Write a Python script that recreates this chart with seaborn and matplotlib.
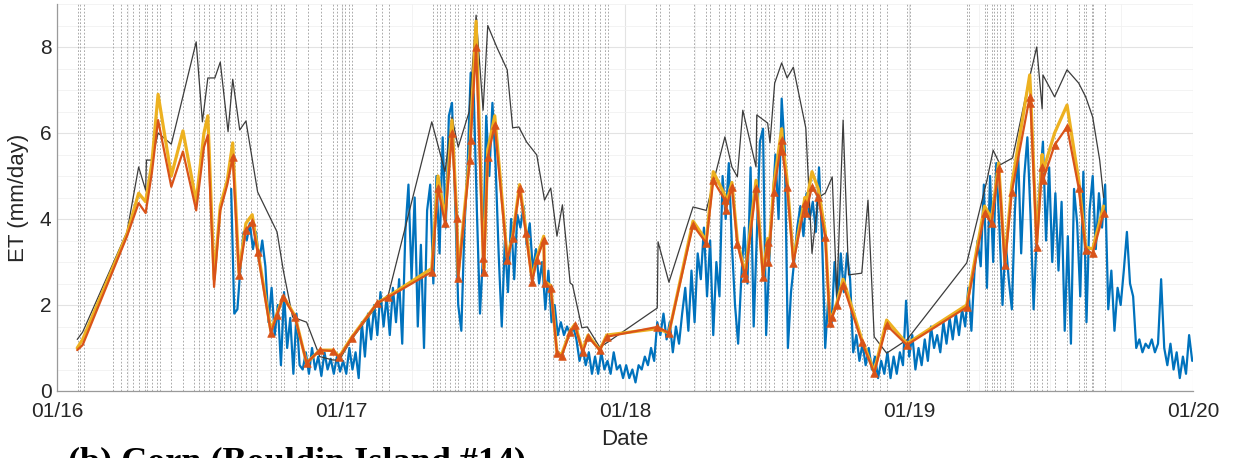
import numpy as np
import pandas as pd
import matplotlib
matplotlib.use("Agg")
import matplotlib.pyplot as plt
import matplotlib.dates as mdates
from matplotlib.ticker import MultipleLocator
import seaborn as sns

# ---------------- data ----------------
# satellite image acquisition dates (vertical dotted lines)
image_dates_2016 = ["2016-01-28","2016-01-31","2016-02-05","2016-03-13","2016-03-23","2016-03-31","2016-04-08",
    "2016-04-16","2016-04-23","2016-04-26","2016-05-02","2016-05-09","2016-05-12","2016-05-26","2016-06-11",
    "2016-06-25","2016-07-02","2016-07-08","2016-07-15","2016-07-21","2016-07-28","2016-08-03","2016-08-10",
    "2016-08-17","2016-08-24","2016-08-31","2016-09-07","2016-09-14","2016-10-02","2016-10-09","2016-10-15",
    "2016-10-19","2016-11-03","2016-11-19","2016-12-05","2016-12-21","2016-12-26"]
image_dates_2017 = ["2017-01-02","2017-01-05","2017-01-10","2017-01-14","2017-02-14","2017-02-22","2017-03-03",
    "2017-04-28","2017-05-04","2017-05-08","2017-05-14","2017-05-20","2017-05-27","2017-05-31","2017-06-09",
    "2017-06-15","2017-06-19","2017-06-24","2017-07-01","2017-07-07","2017-07-16","2017-07-26","2017-08-01",
    "2017-08-08","2017-08-14","2017-08-18","2017-08-25","2017-08-30","2017-09-05","2017-09-11","2017-09-18",
    "2017-09-24","2017-09-30","2017-10-07","2017-10-14","2017-10-21","2017-10-26","2017-11-01","2017-11-07",
    "2017-11-14","2017-11-23","2017-11-29","2017-12-06","2017-12-10"]
image_dates_2018 = ["2018-02-10","2018-02-15","2018-02-26","2018-03-30","2018-04-15","2018-04-20","2018-05-01",
    "2018-05-09","2018-05-16","2018-05-22","2018-06-02","2018-06-10","2018-06-19","2018-06-24","2018-06-30",
    "2018-07-05","2018-07-11","2018-07-21","2018-07-28","2018-08-05","2018-08-11","2018-08-20","2018-08-24",
    "2018-08-29","2018-09-02","2018-09-06","2018-09-11","2018-09-15","2018-09-21","2018-09-30","2018-10-08",
    "2018-10-17","2018-10-23","2018-11-01","2018-11-08","2018-11-15","2018-11-24","2018-12-03","2018-12-29"]
image_dates_2019 = ["2019-01-02","2019-03-16","2019-03-19","2019-04-08","2019-04-11","2019-04-17","2019-04-20",
    "2019-04-24","2019-04-28","2019-05-04","2019-05-12","2019-05-14","2019-06-05","2019-06-10","2019-06-15",
    "2019-06-21","2019-06-27","2019-07-07","2019-07-23","2019-08-08","2019-08-14","2019-08-16","2019-08-24",
    "2019-08-25","2019-09-10"]

# tower daily ET (sampled every 4 days)
tower_start = "2016-08-12"
tower_step_days = 4
tower_2016a = [4.7, 1.8, 1.9, 2.9, 3.7, 3.5, 3.9, 3.3, 3.7, 3.0, 3.5, 2.9, 1.6, 2.4, 1.3, 2.0, 0.6, 2.3, 1.0,
               1.7, 0.4, 1.8, 0.6]
tower_winter17 = [0.5, 0.9, 0.4, 1.0, 0.5, 0.8, 0.35, 0.9, 0.5, 0.75, 0.4, 0.8, 0.45, 0.7, 0.4, 1.0, 0.5, 0.9,
                  0.3, 1.6, 0.8, 1.8, 1.2, 2.0, 1.3, 2.3, 1.5, 2.2, 1.3, 2.4, 1.6, 2.6, 1.1]
tower_season17 = [3.7, 4.8, 2.6, 4.5, 1.5, 3.4, 1.0, 4.2, 4.8, 2.5, 5.0, 3.2, 5.9, 3.8, 6.4, 6.7, 4.4, 2.0, 1.4,
                  3.8, 5.2, 7.4, 6.9, 4.2, 1.8, 3.2, 6.4, 5.0, 6.7, 5.3, 3.2, 1.5, 3.5, 2.3, 4.0, 2.6, 4.1, 3.8,
                  4.3, 3.4, 3.9, 2.8, 3.3, 2.5, 3.0]
tower_fall17 = [1.9, 2.8, 1.6, 2.0, 1.3, 1.6, 1.3, 1.5, 1.3, 1.5, 1.2, 0.7, 1.0, 0.6, 0.9, 0.4, 0.8, 0.4, 0.9, 0.5]
tower_winter18 = [0.7, 0.4, 0.9, 0.5, 0.6, 0.3, 0.6, 0.3, 0.5, 0.2, 0.6, 0.5, 0.8, 0.6, 1.0, 0.7, 1.6, 1.3, 1.8,
                  1.2, 1.6, 0.9, 1.5, 1.1, 1.8]
tower_season18 = [2.4, 1.4, 2.8, 1.6, 3.2, 2.6, 3.8, 2.2, 3.5, 1.3, 3.0, 2.2, 5.0, 4.0, 5.3, 3.4, 2.0, 1.1, 2.6,
                  3.8, 2.5, 5.2, 1.5, 3.6, 5.8, 6.1, 1.3, 3.0, 4.3, 5.5, 4.0, 6.8, 5.6, 1.0, 2.3, 3.0, 3.8, 4.3,
                  3.6, 4.6, 4.0, 4.4, 3.7, 5.2, 3.5, 1.0, 2.2, 1.5, 3.0, 2.0, 3.2, 2.3, 3.2, 2.6, 0.9]
tower_winter19 = [1.3, 0.7, 1.1, 0.6, 1.0, 0.5, 0.8, 0.3, 0.7, 0.4, 0.9, 0.3, 0.8, 0.4, 0.9, 0.6, 2.1, 0.8, 1.3,
                  0.5, 1.0, 0.6, 1.2, 0.7, 1.5, 1.0, 1.3, 0.9, 1.6, 1.1, 1.7, 1.2, 1.8, 1.3, 1.9, 1.5, 2.4, 1.4,
                  2.8, 3.5]
tower_season19 = [2.9, 4.8, 2.4, 5.0, 3.0, 5.3, 3.8, 2.0, 3.5, 2.6, 1.9, 4.2, 5.6, 3.2, 5.0, 5.9, 4.1, 1.9, 3.6,
                  4.8, 5.8, 3.5, 5.2, 3.0, 4.6, 2.8, 4.4, 1.4, 3.6, 1.1, 4.7, 3.9, 2.2, 5.1, 1.6, 4.2, 5.0, 3.3,
                  4.6, 3.8, 4.8, 1.9, 2.8, 1.4, 2.4, 2.0, 2.8, 3.7, 2.5, 2.2, 1.0, 1.2, 0.9, 1.1, 1.0, 1.2, 0.9,
                  1.1, 2.6, 1.0, 0.6, 1.1, 0.5, 0.9, 0.3, 0.8, 0.4, 1.3, 0.7]

# model ET at image dates (orange with triangles, yellow)
model_dates = ["2016-01-27","2016-02-03","2016-03-31","2016-04-15","2016-04-24","2016-05-02","2016-05-10",
    "2016-05-27","2016-06-11","2016-06-28","2016-07-08","2016-07-13","2016-07-21","2016-07-29","2016-08-07",
    "2016-08-14","2016-08-22","2016-08-31","2016-09-08","2016-09-15","2016-10-02","2016-10-10","2016-10-18",
    "2016-11-02","2016-11-17","2016-12-04","2016-12-21","2016-12-29","2017-01-14","2017-02-16","2017-03-02",
    "2017-04-27","2017-05-05","2017-05-14","2017-05-23","2017-05-29","2017-05-31","2017-06-15","2017-06-16",
    "2017-06-23","2017-07-02","2017-07-03","2017-07-08","2017-07-17","2017-08-02","2017-08-09","2017-08-18",
    "2017-08-26","2017-09-03","2017-09-09","2017-09-18","2017-09-19","2017-09-27","2017-10-05","2017-10-11",
    "2017-10-22","2017-10-28","2017-11-07","2017-11-14","2017-11-29","2017-12-08","2018-02-11","2018-02-26",
    "2018-03-29","2018-04-15","2018-04-24","2018-05-09","2018-05-10","2018-05-18","2018-05-25","2018-06-03",
    "2018-06-04","2018-06-18","2018-06-27","2018-07-03","2018-07-04","2018-07-11","2018-07-21","2018-07-22",
    "2018-07-28","2018-08-05","2018-08-20","2018-08-21","2018-08-29","2018-09-06","2018-09-15","2018-09-21",
    "2018-09-24","2018-09-30","2018-10-08","2018-11-01","2018-11-17","2018-12-03","2018-12-29","2019-03-16",
    "2019-04-08","2019-04-17","2019-04-26","2019-05-04","2019-05-13","2019-06-05","2019-06-06","2019-06-14",
    "2019-06-21","2019-06-22","2019-07-07","2019-07-23","2019-08-07","2019-08-16","2019-08-25","2019-09-08"]
orange_et = [0.95, 1.07, 3.6, 4.37, 4.14, 5.07, 6.3, 4.75, 5.57, 4.2, 5.67, 5.95, 2.42, 4.2, 4.8,
    5.44, 2.7, 3.74, 3.93, 3.23, 1.35, 1.77, 2.19, 1.72, 0.65, 0.95, 0.93, 0.78, 1.23, 2.05, 2.18,
    2.77, 4.72, 3.9, 6.0, 4.02, 2.63, 5.37, 5.84, 8.0, 3.1, 2.77, 5.44, 6.19, 3.05, 3.56, 4.72,
    3.67, 2.53, 3.05, 3.51, 2.51, 2.4, 0.88, 0.81, 1.37, 1.53, 0.9, 1.26, 0.95, 1.26, 1.49, 1.35,
    3.86, 3.44, 4.9, 4.44, 4.21, 4.75, 3.42, 2.74, 2.63, 4.72, 2.65, 3.47, 3.0, 4.63, 5.84, 5.57,
    4.75, 2.98, 4.37, 4.14, 4.75, 4.51, 3.58, 1.58, 1.72, 2.0, 2.47, 1.14, 0.42, 1.53, 1.07, 1.95,
    4.14, 3.9, 5.18, 2.93, 4.63, 6.84, 6.7, 3.35, 5.21, 4.9, 5.72, 6.14, 4.72, 3.28, 3.2, 4.14]
yellow_et = [1.0, 1.2, 3.65, 4.6, 4.4, 5.3, 6.9, 5.0, 6.05, 4.4, 6.0, 6.4, 2.6, 4.3, 4.9,
    5.77, 2.75, 3.9, 4.1, 3.3, 1.4, 1.8, 2.2, 1.75, 0.65, 0.95, 0.95, 0.8, 1.25, 2.05, 2.2,
    2.85, 5.0, 4.0, 6.3, 4.1, 2.7, 5.5, 6.0, 8.6, 3.2, 2.85, 5.6, 6.4, 3.1, 3.6, 4.8,
    3.75, 2.6, 3.1, 3.6, 2.55, 2.45, 0.9, 0.85, 1.4, 1.55, 0.95, 1.3, 0.95, 1.3, 1.45, 1.35,
    3.95, 3.5, 5.1, 4.55, 4.3, 4.85, 3.5, 2.8, 2.7, 4.9, 2.7, 3.55, 3.1, 4.8, 6.1, 5.8,
    4.9, 3.05, 4.5, 4.3, 5.1, 4.7, 3.7, 1.6, 1.75, 2.05, 2.6, 1.2, 0.45, 1.65, 1.1, 2.0,
    4.3, 4.0, 5.3, 3.0, 4.8, 7.35, 7.0, 3.45, 5.5, 5.1, 6.0, 6.65, 4.9, 3.35, 3.3, 4.3]

# reference ET (thin dark line)
ref_dates = ["2016-01-27","2016-02-03","2016-03-31","2016-04-15","2016-04-24","2016-04-25","2016-05-02",
    "2016-05-10","2016-05-27","2016-06-28","2016-07-06","2016-07-13","2016-07-22","2016-07-29","2016-08-08",
    "2016-08-14","2016-08-23","2016-08-31","2016-09-15","2016-10-10","2016-10-18","2016-10-30","2016-11-17",
    "2016-12-04","2016-12-21","2016-12-29","2017-01-14","2017-02-16","2017-03-02","2017-04-27","2017-05-10",
    "2017-05-14","2017-05-23","2017-05-31","2017-06-14","2017-06-23","2017-07-02","2017-07-08","2017-07-20",
    "2017-08-02","2017-08-09","2017-08-17","2017-08-27","2017-09-09","2017-09-19","2017-09-27","2017-10-05",
    "2017-10-12","2017-10-22","2017-10-25","2017-11-06","2017-11-13","2017-11-29","2017-12-08","2018-02-11",
    "2018-02-12","2018-02-26","2018-03-29","2018-04-15","2018-05-09","2018-05-18","2018-05-25","2018-06-01",
    "2018-06-18","2018-06-19","2018-07-03","2018-07-06","2018-07-12","2018-07-21","2018-07-28","2018-08-05",
    "2018-08-21","2018-08-29","2018-09-06","2018-09-15","2018-09-24","2018-09-30","2018-10-08","2018-10-15",
    "2018-11-01","2018-11-09","2018-11-17","2018-12-03","2018-12-29","2019-03-16","2019-04-11","2019-04-19",
    "2019-04-28","2019-05-14","2019-06-05","2019-06-14","2019-06-21","2019-06-22","2019-07-07","2019-07-23",
    "2019-08-07","2019-08-16","2019-08-25","2019-09-03","2019-09-08"]
ref_et = [1.2, 1.37, 3.7, 5.21, 4.67, 5.37, 5.37, 6.0, 5.74, 8.12, 6.26, 7.28, 7.28, 7.65, 6.03,
    7.25, 6.07, 6.28, 4.63, 3.7, 2.81, 1.72, 1.6, 0.8, 0.72, 0.72, 1.2, 2.0, 2.23, 6.26, 5.37,
    5.1, 6.37, 5.67, 6.49, 8.74, 6.53, 8.5, 7.98, 7.47, 6.12, 6.14, 5.79, 5.49, 4.44, 4.72, 3.6,
    4.33, 2.51, 2.47, 1.47, 1.49, 1.02, 1.12, 1.93, 3.47, 2.53, 4.28, 4.2, 5.91, 5.21, 4.98, 6.53,
    5.21, 6.42, 6.23, 5.77, 7.16, 7.63, 7.28, 7.53, 6.12, 3.2, 4.5, 4.6, 4.98, 2.2, 6.3, 2.7,
    2.74, 4.44, 1.26, 0.88, 1.19, 2.98, 4.9, 5.6, 5.26, 5.42, 7.3, 8.0, 6.56, 7.35, 6.84, 7.47,
    7.16, 6.84, 6.37, 5.37, 4.5]

x_ticks = ["2016-01-01", "2017-01-01", "2018-01-01", "2019-01-01", "2020-01-01"]
y_ticks = [0, 2, 4, 6, 8]
caption = "(b) Corn (Bouldin Island #14)"

# ---------------- plotting ----------------
sns.set_theme(style="white")
plt.rcParams['font.family'] = ['Liberation Sans', 'DejaVu Sans']

BLUE = "#0072BD"
ORANGE = "#D95319"
YELLOW = "#EDB120"
DARK = "#3c3c3c"

fig = plt.figure(figsize=(12.35, 4.58), dpi=100)
ax = fig.add_axes([57 / 1235, 67 / 458, 1136 / 1235, 387 / 458])

img_dates = pd.to_datetime(image_dates_2016 + image_dates_2017 + image_dates_2018 + image_dates_2019)
for d in img_dates:
    ax.axvline(d, color="#ababab", lw=0.7, ls=(0, (1.8, 1.8)), zorder=1)

tower_vals = (tower_2016a + tower_winter17 + tower_season17 + tower_fall17 + tower_winter18 +
              tower_season18 + tower_winter19 + tower_season19)
tower_df = pd.DataFrame({
    "date": pd.date_range(tower_start, periods=len(tower_vals), freq=f"{tower_step_days}D"),
    "et": tower_vals})
sns.lineplot(data=tower_df, x="date", y="et", color=BLUE, lw=1.6, ax=ax,
             estimator=None, sort=False, zorder=2)

ref_df = pd.DataFrame({"date": pd.to_datetime(ref_dates), "et": ref_et})
sns.lineplot(data=ref_df, x="date", y="et", color=DARK, lw=0.9, ax=ax,
             estimator=None, sort=False, zorder=3)

model_df = pd.DataFrame({"date": pd.to_datetime(model_dates), "orange": orange_et, "yellow": yellow_et})
sns.lineplot(data=model_df, x="date", y="yellow", color=YELLOW, lw=2.3, ax=ax,
             estimator=None, sort=False, zorder=4)
sns.lineplot(data=model_df, x="date", y="orange", color=ORANGE, lw=1.6, ax=ax,
             estimator=None, sort=False, zorder=5)
marked = model_df[model_df["date"] >= tower_df["date"].iloc[0]]
sns.scatterplot(data=marked, x="date", y="orange", marker="^", s=30, color=ORANGE,
                edgecolor=ORANGE, linewidth=0.5, ax=ax, zorder=6)

ax.set_xlim(pd.Timestamp(x_ticks[0]), pd.Timestamp(x_ticks[-1]))
ax.set_ylim(0, 9)
ax.set_xticks(pd.to_datetime(x_ticks))
ax.xaxis.set_major_formatter(mdates.DateFormatter("%m/%y"))
ax.xaxis.set_minor_locator(mdates.MonthLocator(bymonth=[4, 7, 10]))
ax.set_yticks(y_ticks)
ax.yaxis.set_minor_locator(MultipleLocator(0.5))

ax.grid(which="major", color="#e3e3e3", lw=0.8, zorder=0)
ax.grid(which="minor", color="#f1f1f1", lw=0.6, zorder=0)
ax.set_axisbelow(True)

for s in ["top", "right"]:
    ax.spines[s].set_visible(False)
for s in ["left", "bottom"]:
    ax.spines[s].set_color("#9a9a9a")
    ax.spines[s].set_linewidth(0.9)

ax.tick_params(which="major", direction="in", length=4, width=0.8, color="#9a9a9a",
               labelsize=15, labelcolor="#262626")
ax.tick_params(axis="x", which="major", pad=8)
ax.tick_params(axis="y", which="major", pad=4)
ax.tick_params(which="minor", length=0)

ax.set_xlabel("Date", fontsize=16, color="#262626", labelpad=6)
ax.set_ylabel("ET (mm/day)", fontsize=16, color="#262626", labelpad=8)

fig.text(68 / 1235, (458 - 471) / 458, caption, fontfamily="Liberation Serif",
         fontweight="bold", fontsize=26, va="baseline", ha="left", color="black")

fig.savefig("out.png", dpi=100)
